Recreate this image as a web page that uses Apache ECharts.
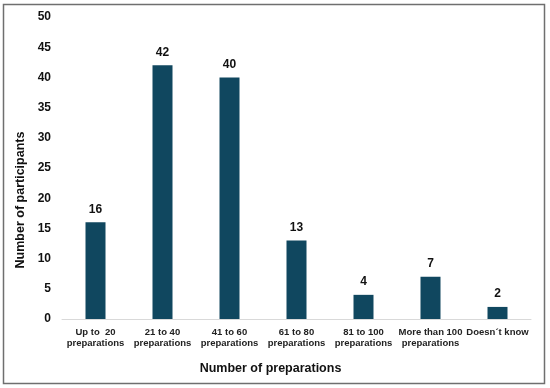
<!DOCTYPE html>
<html><head><meta charset="utf-8">
<script src="https://cdn.jsdelivr.net/npm/echarts@6/dist/echarts.min.js"></script>
<style>html,body{margin:0;padding:0;background:#fff}#c{width:550px;height:388px}</style>
</head><body><div id="c"></div>
<script>
const categories = ["Up to  20\npreparations","21 to 40\npreparations","41 to 60\npreparations","61 to 80\npreparations","81 to 100\npreparations","More than 100\npreparations","Doesn´t know"];
const participants = [16, 42, 40, 13, 4, 7, 2];
const yTicks = {min: 0, max: 50, interval: 5};

const chart = echarts.init(document.getElementById('c'), null, {renderer: 'canvas'});
chart.setOption({
  animation: false,
  backgroundColor: '#fff',
  graphic: [{type: 'rect', shape: {x: 3.5, y: 4.5, width: 541, height: 379}, style: {fill: 'none', stroke: '#6f6f6f', lineWidth: 1.5}, z: 100}],
  grid: {left: 62, right: 19, top: 17, bottom: 69},
  xAxis: {
    type: 'category', data: categories,
    axisLine: {lineStyle: {color: '#d9d9d9', width: 1}},
    axisTick: {show: false},
    axisLabel: {color: '#222', fontFamily: 'Liberation Sans', fontWeight: 'bold', fontSize: 9.5, lineHeight: 11, margin: 8, interval: 0},
    name: 'Number of preparations', nameLocation: 'middle', nameGap: 43,
    nameTextStyle: {color: '#111', fontFamily: 'Liberation Sans', fontWeight: 'bold', fontSize: 12.5, padding: [0, 52, 0, 0]}
  },
  yAxis: {
    type: 'value', min: yTicks.min, max: yTicks.max, interval: yTicks.interval,
    axisLine: {show: false}, axisTick: {show: false}, splitLine: {show: false},
    axisLabel: {color: '#111', fontFamily: 'Liberation Sans', fontWeight: 'bold', fontSize: 12, margin: 11},
    name: 'Number of participants', nameLocation: 'middle', nameGap: 35, nameRotate: 90,
    nameTextStyle: {color: '#111', fontFamily: 'Liberation Sans', fontWeight: 'bold', fontSize: 12.5, padding: [0, 64, 0, 0]}
  },
  series: [{
    type: 'bar', data: participants, barWidth: 20,
    itemStyle: {color: '#10475f'},
    label: {show: true, position: 'top', distance: 7, color: '#111', fontFamily: 'Liberation Sans', fontWeight: 'bold', fontSize: 12}
  }]
});
</script></body></html>
